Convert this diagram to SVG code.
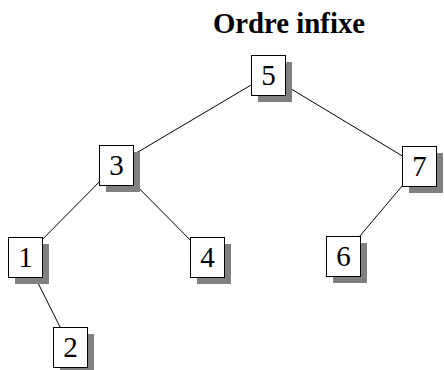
<svg xmlns="http://www.w3.org/2000/svg" width="444" height="370" viewBox="0 0 444 370">
  <style>
    .edge { stroke: #000; stroke-width: 1; fill: none; }
    .shadow { fill: #808080; }
    .box { fill: #fff; stroke: #000; stroke-width: 1; }
    .label { font-family: "Liberation Serif", "Times New Roman", serif; font-size: 29px; text-anchor: middle; fill: #000; }
    .title { font-family: "Liberation Serif", "Times New Roman", serif; font-size: 28.8px; font-weight: bold; text-anchor: middle; fill: #000; }
  </style>
  <defs>
    <g id="node-shape">
      <rect class="shadow" x="7" y="7" width="34" height="40"/>
      <rect class="box" x="0.5" y="0.5" width="34" height="40"/>
    </g>
  </defs>
  <rect width="444" height="370" fill="#fff"/>
  <text class="title" x="289" y="33">Ordre infixe</text>

  <!-- tree edges, centre to centre, hidden under the boxes -->
  <g id="connectors">
    <line class="edge" x1="268" y1="75" x2="116" y2="165"/>
    <line class="edge" x1="268" y1="75" x2="419" y2="166"/>
    <line class="edge" x1="116" y1="165" x2="25" y2="257"/>
    <line class="edge" x1="116" y1="165" x2="207" y2="257"/>
    <line class="edge" x1="419" y1="166" x2="343" y2="256"/>
    <line class="edge" x1="25" y1="257" x2="70" y2="347"/>
  </g>

  <g id="n5" transform="translate(251,55)">
    <use href="#node-shape"/>
    <text class="label" x="17.5" y="30">5</text>
  </g>
  <g id="n3" transform="translate(99,145)">
    <use href="#node-shape"/>
    <text class="label" x="17.5" y="30">3</text>
  </g>
  <g id="n7" transform="translate(402,146)">
    <use href="#node-shape"/>
    <text class="label" x="17.5" y="30">7</text>
  </g>
  <g id="n1" transform="translate(8,237)">
    <use href="#node-shape"/>
    <text class="label" x="17.5" y="30">1</text>
  </g>
  <g id="n4" transform="translate(190,237)">
    <use href="#node-shape"/>
    <text class="label" x="17.5" y="30">4</text>
  </g>
  <g id="n6" transform="translate(326,236)">
    <use href="#node-shape"/>
    <text class="label" x="17.5" y="30">6</text>
  </g>
  <g id="n2" transform="translate(53,327)">
    <use href="#node-shape"/>
    <text class="label" x="17.5" y="30">2</text>
  </g>
</svg>
